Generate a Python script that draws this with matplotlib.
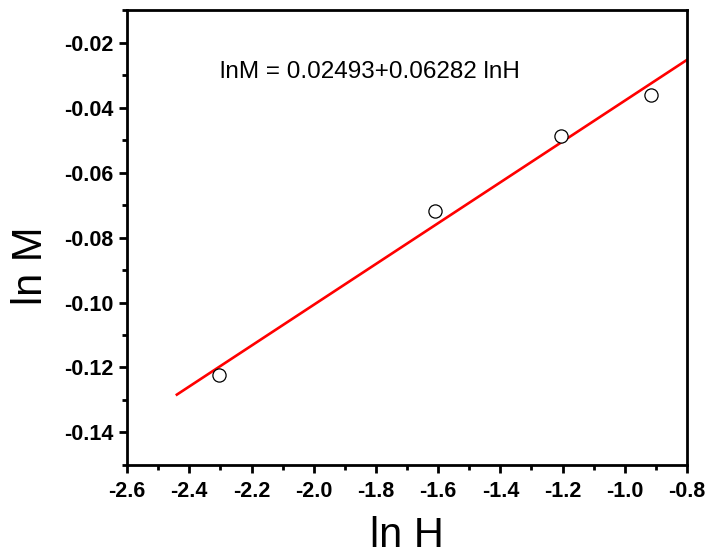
import numpy as np
import matplotlib
matplotlib.use("Agg")
import matplotlib.pyplot as plt
from matplotlib.ticker import MultipleLocator

# data
ln_h = [-2.303, -1.609, -1.204, -0.916]
ln_m = [-0.1222, -0.0717, -0.0489, -0.0361]
fit_intercept = 0.02493
fit_slope = 0.06282
fit_x = [-2.44, -0.8]
x_ticks = [-2.6, -2.4, -2.2, -2.0, -1.8, -1.6, -1.4, -1.2, -1.0, -0.8]
y_ticks = [-0.14, -0.12, -0.10, -0.08, -0.06, -0.04, -0.02]

plt.rcParams['font.family'] = ['Liberation Sans', 'DejaVu Sans']

fig = plt.figure(figsize=(7.1, 5.58), dpi=100)
ax = fig.add_axes([0.179, 0.1667, 0.7886, 0.8153])

fx = np.array(fit_x)
ax.plot(fx, fit_intercept + fit_slope * fx, color='red', lw=1.9, zorder=2)
ax.plot(ln_h, ln_m, linestyle='none', marker='o', markersize=9.5,
        markerfacecolor='white', markeredgecolor='black', markeredgewidth=0.9, zorder=3)

ax.text(-2.3, -0.0308, 'lnM = 0.02493+0.06282 lnH', fontsize=17.5, va='baseline', ha='left')

ax.set_xlim(-2.6, -0.8)
ax.set_ylim(-0.15, -0.01)
ax.set_xticks(x_ticks)
ax.set_xticklabels(['%.1f' % v for v in x_ticks])
ax.set_yticks(y_ticks)
ax.set_yticklabels(['%.2f' % v for v in y_ticks])
ax.xaxis.set_minor_locator(MultipleLocator(0.1))
ax.yaxis.set_minor_locator(MultipleLocator(0.01))

for s in ax.spines.values():
    s.set_linewidth(2.0)
ax.tick_params(which='major', direction='out', length=6, width=2.0, labelsize=15.5, pad=4)
ax.tick_params(axis='x', which='major', pad=5.5)
ax.tick_params(which='minor', direction='out', length=3.5, width=2.0)
for lab in ax.get_xticklabels() + ax.get_yticklabels():
    lab.set_fontweight('bold')

ax.set_xlabel('ln H', fontsize=30, labelpad=10)
ax.set_ylabel('ln M', fontsize=30)
ax.yaxis.set_label_coords(-0.136, 0.437)

fig.savefig('out.png', dpi=100)
